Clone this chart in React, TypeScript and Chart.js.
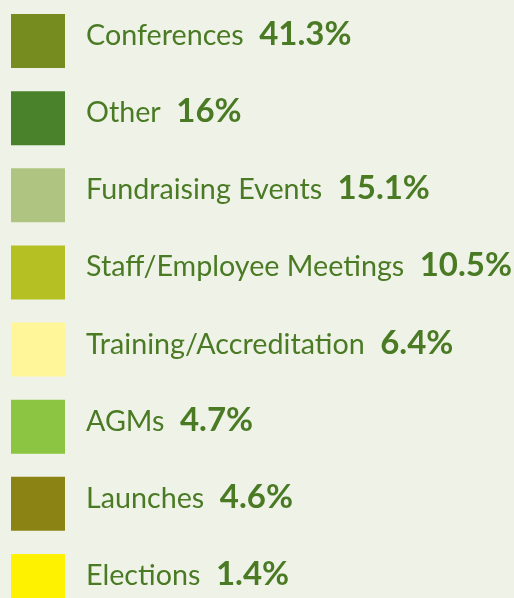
import { useEffect, useRef } from 'react';
import { Chart, registerables } from 'chart.js';

Chart.register(...registerables);

const categories = [
  'Conferences',
  'Other',
  'Fundraising Events',
  'Staff/Employee Meetings',
  'Training/Accreditation',
  'AGMs',
  'Launches',
  'Elections',
];
const shares = [41.3, 16, 15.1, 10.5, 6.4, 4.7, 4.6, 1.4];
const colors = ['#768c1e', '#4a812b', '#b0c481', '#b5c022', '#fff599', '#8bc541', '#8b8314', '#fff200'];

const BG = '#eff3e7';
const TEXT = '#4a7a24';

const textPlugin = {
  id: 'legendText',
  beforeDraw(chart: any) {
    const { ctx, width, height } = chart;
    ctx.save();
    ctx.fillStyle = BG;
    ctx.fillRect(0, 0, width, height);
    ctx.restore();
  },
  afterDatasetsDraw(chart: any) {
    const meta = chart.getDatasetMeta(0);
    const ctx = chart.ctx;
    ctx.save();
    ctx.fillStyle = TEXT;
    ctx.textBaseline = 'alphabetic';
    ctx.textAlign = 'left';
    meta.data.forEach((pt: any, i: number) => {
      const x = pt.x + 48;
      const y = pt.y + 4;
      ctx.font = '28.7px Lato';
      ctx.fillText(categories[i], x, y);
      const w = ctx.measureText(categories[i]).width;
      ctx.font = 'bold 33px Lato';
      ctx.fillText(`${shares[i]}%`, x + w + 15.5, y);
    });
    ctx.restore();
  },
};

export default function App() {
  const ref = useRef<HTMLCanvasElement | null>(null);

  useEffect(() => {
    document.body.style.margin = '0';
    document.body.style.background = BG;
    document.body.style.overflow = 'hidden';
    const canvas = ref.current;
    if (!canvas) return;
    const chart = new Chart(canvas, {
      type: 'scatter',
      data: {
        datasets: [
          {
            label: 'Share',
            data: categories.map((c) => ({ x: 0, y: c })) as any,
            pointStyle: 'rect',
            pointRadius: 38.18,
            pointHoverRadius: 38.18,
            pointBackgroundColor: colors,
            pointBorderWidth: 0,
            pointHoverBorderWidth: 0,
            clip: false as any,
          },
        ],
      },
      options: {
        responsive: false,
        animation: false,
        events: [],
        layout: { autoPadding: false, padding: { left: 38, right: 10, top: 41, bottom: 17 } },
        scales: {
          x: { type: 'linear', min: 0, max: 1, display: false },
          y: { type: 'category', labels: categories, offset: false, display: false },
        },
        plugins: {
          legend: { display: false },
          tooltip: { enabled: false },
        },
      },
      plugins: [textPlugin],
    });
    return () => chart.destroy();
  }, []);

  return (
    <div style={{ width: 514, height: 598, background: BG }}>
      <canvas ref={ref} width={514} height={598} style={{ display: 'block' }} />
    </div>
  );
}
